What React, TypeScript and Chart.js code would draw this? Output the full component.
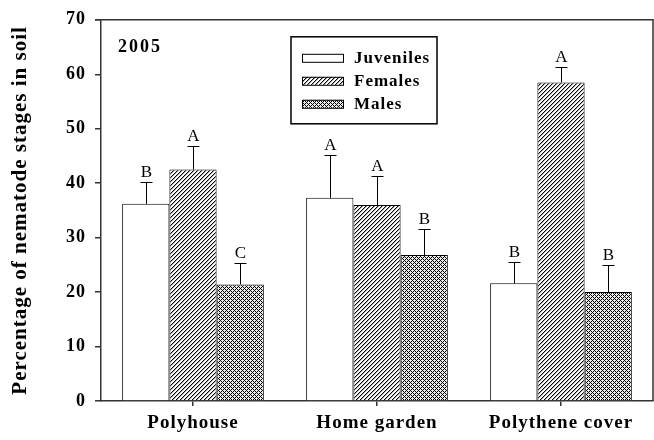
import React, { useEffect, useRef } from 'react';
import { Chart, registerables } from 'chart.js';

Chart.register(...registerables);

const categories = ['Polyhouse', 'Home garden', 'Polythene cover'];
const seriesNames = ['Juveniles', 'Females', 'Males'];
const juveniles = [36.2, 37.3, 21.6];
const females = [42.5, 36.0, 58.5];
const males = [21.4, 26.8, 20.0];
const juvenilesErr = [4.1, 7.8, 4.0];
const femalesErr = [4.3, 5.4, 2.9];
const malesErr = [4.0, 4.7, 5.0];
const juvenilesLetters = ['B', 'A', 'B'];
const femalesLetters = ['A', 'A', 'A'];
const malesLetters = ['C', 'B', 'B'];
const yTicks = [0, 10, 20, 30, 40, 50, 60, 70];
const yearLabel = '2005';
const yTitle = 'Percentage of nematode stages in soil';

const FONT = "'Liberation Serif', 'Times New Roman', serif";
const AXIS_COLOR = '#333';

function makePattern(kind: 'hatch' | 'cross' | 'none'): CanvasPattern | string {
  if (kind === 'none') return '#ffffff';
  const n = 4;
  const c = document.createElement('canvas');
  c.width = n;
  c.height = n;
  const g = c.getContext('2d')!;
  const img = g.createImageData(n, n);
  for (let y = 0; y < n; y++) {
    for (let x = 0; x < n; x++) {
      let v = 255;
      if (kind === 'hatch') {
        const r = (x + y) % n;
        v = r === n - 1 ? 0 : r === 0 ? 170 : 255;
      } else {
        const dark = (x + y) % n === 0 || (x - y + 2 * n) % n === 0;
        v = dark ? 0 : 235;
      }
      const i = (y * n + x) * 4;
      img.data[i] = v;
      img.data[i + 1] = v;
      img.data[i + 2] = v;
      img.data[i + 3] = 255;
    }
  }
  g.putImageData(img, 0, 0);
  const main = document.createElement('canvas').getContext('2d')!;
  return main.createPattern(c, 'repeat')!;
}

export default function App() {
  const ref = useRef<HTMLCanvasElement | null>(null);

  useEffect(() => {
    const canvas = ref.current;
    if (!canvas) return;
    const fills = [makePattern('none'), makePattern('hatch'), makePattern('cross')];
    const values = [juveniles, females, males];
    const errs = [juvenilesErr, femalesErr, malesErr];
    const letters = [juvenilesLetters, femalesLetters, malesLetters];

    const spacing = {
      id: 'spacing',
      beforeDraw(chart: any) {
        (chart.ctx as any).letterSpacing = '1px';
      },
      afterDraw(chart: any) {
        (chart.ctx as any).letterSpacing = '0px';
      },
    };

    const overlay = {
      id: 'overlay',
      afterDatasetsDraw(chart: any) {
        const ctx = chart.ctx as CanvasRenderingContext2D;
        const { left, right, top, bottom } = chart.chartArea;
        const yScale = chart.scales.y;
        ctx.save();
        (ctx as any).letterSpacing = '0px';
        // error bars + letters
        values.forEach((arr, di) => {
          const meta = chart.getDatasetMeta(di);
          meta.data.forEach((bar: any, i: number) => {
            const x = Math.round(bar.x) + 0.5;
            const y0 = yScale.getPixelForValue(arr[i]);
            const y1 = Math.round(yScale.getPixelForValue(arr[i] + errs[di][i])) + 0.5;
            ctx.strokeStyle = '#000';
            ctx.lineWidth = 1;
            ctx.beginPath();
            ctx.moveTo(x, y0);
            ctx.lineTo(x, y1);
            ctx.moveTo(x - 6, y1);
            ctx.lineTo(x + 6, y1);
            ctx.stroke();
            ctx.fillStyle = '#000';
            ctx.font = `17px ${FONT}`;
            ctx.textAlign = 'center';
            ctx.textBaseline = 'alphabetic';
            ctx.fillText(letters[di][i], x, y1 - 6);
          });
        });
        // frame top and right
        ctx.strokeStyle = AXIS_COLOR;
        ctx.lineWidth = 1.5;
        ctx.beginPath();
        ctx.moveTo(left - 6, top);
        ctx.lineTo(right, top);
        ctx.lineTo(right, bottom);
        ctx.stroke();
        // year label
        ctx.fillStyle = '#000';
        (ctx as any).letterSpacing = '2px';
        ctx.font = `bold 18px ${FONT}`;
        ctx.textAlign = 'left';
        ctx.textBaseline = 'alphabetic';
        ctx.fillText(yearLabel, left + 17, top + 32);
        // legend
        (ctx as any).letterSpacing = '1px';
        const lx = left + 190;
        const ly = top + 17;
        const lw = 146;
        const lh = 87;
        ctx.strokeStyle = '#000';
        ctx.lineWidth = 1.5;
        ctx.fillStyle = '#fff';
        ctx.fillRect(lx, ly, lw, lh);
        ctx.strokeRect(lx, ly, lw, lh);
        seriesNames.forEach((name, i) => {
          const cy = ly + 21 + i * 23;
          ctx.fillStyle = fills[i] as any;
          ctx.fillRect(lx + 11, cy - 4, 41, 8);
          ctx.strokeStyle = '#000';
          ctx.lineWidth = 1;
          ctx.strokeRect(lx + 11.5, cy - 3.5, 41, 8);
          ctx.fillStyle = '#000';
          ctx.font = `bold 17px ${FONT}`;
          ctx.textAlign = 'left';
          ctx.textBaseline = 'middle';
          ctx.fillText(name, lx + 63, cy + 1);
        });
        ctx.restore();
      },
    };

    const chart = new Chart(canvas, {
      type: 'bar',
      data: {
        labels: categories,
        datasets: seriesNames.map((name, i) => ({
          label: name,
          data: values[i],
          backgroundColor: fills[i] as any,
          borderColor: '#000',
          borderWidth: 1,
          categoryPercentage: 0.77,
          barPercentage: 1.0,
        })),
      },
      options: {
        responsive: false,
        animation: false,
        events: [],
        layout: { padding: { top: 14, right: 1, left: 0, bottom: 0 } },
        plugins: {
          legend: { display: false },
          tooltip: { enabled: false },
          title: { display: false },
        },
        scales: {
          x: {
            grid: {
              display: true,
              drawOnChartArea: false,
              offset: false,
              tickLength: 5,
              color: AXIS_COLOR,
              lineWidth: 1.5,
            },
            border: { display: true, color: AXIS_COLOR, width: 1.5 },
            ticks: {
              font: { family: FONT, size: 19, weight: 'bold' },
              color: '#000',
              padding: 6,
              maxRotation: 0,
              autoSkip: false,
            },
            afterFit: (s: any) => {
              s.height = 39;
            },
          },
          y: {
            min: 0,
            max: 70,
            afterBuildTicks: (s: any) => {
              s.ticks = yTicks.map((v) => ({ value: v }));
            },
            grid: {
              drawOnChartArea: false,
              tickLength: 6,
              color: AXIS_COLOR,
              lineWidth: 1.5,
            },
            border: { display: true, color: AXIS_COLOR, width: 1.5 },
            ticks: {
              font: { family: FONT, size: 18, weight: 'bold' },
              color: '#000',
              padding: 9,
            },
            title: {
              display: true,
              text: yTitle,
              font: { family: FONT, size: 21, weight: 'bold' },
              color: '#000',
              padding: { top: 8, bottom: 0 },
            },
            afterFit: (s: any) => {
              s.width = 101;
            },
          },
        },
      },
      plugins: [spacing, overlay],
    });
    return () => chart.destroy();
  }, []);

  return (
    <div style={{ position: 'absolute', left: 0, top: 0, width: 654, height: 440, background: '#fff' }}>
      <canvas ref={ref} width={654} height={440} style={{ display: 'block' }} />
    </div>
  );
}
